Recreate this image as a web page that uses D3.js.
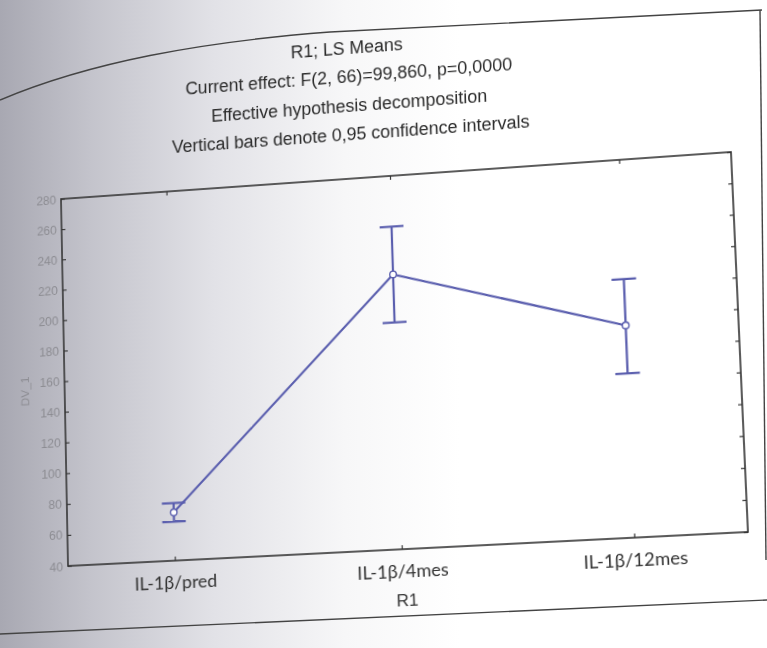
<!DOCTYPE html>
<html>
<head>
<meta charset="utf-8">
<script src="https://cdn.jsdelivr.net/npm/d3@7"></script>
<style>
  html, body { margin: 0; padding: 0; width: 767px; height: 648px; overflow: hidden; }
  body { background: linear-gradient(to right, #a8a8b2 0%, #c4c4cc 12%, #e2e2e7 28%, #f7f7f8 45%, #ffffff 60%); }
  #paper { position: absolute; left: 0; top: 0; }
  #stage { position: absolute; left: 0; top: 0; width: 767px; height: 648px; transform-origin: 0 0; }
</style>
</head>
<body>
<svg id="paper" width="767" height="648"></svg>
<div id="stage"></div>
<script>
// LS means with 0,95 confidence intervals
const categories = ['IL-1β/pred', 'IL-1β/4mes', 'IL-1β/12mes'];
const means      = [71, 216, 174];
const lowerCI    = [65, 185, 143.5];
const upperCI    = [77, 247, 203.5];
const yTicks     = [40, 60, 80, 100, 120, 140, 160, 180, 200, 220, 240, 260, 280];
const titleLines = [
  'R1; LS Means',
  'Current effect: F(2, 66)=99,860, p=0,0000',
  'Effective hypothesis decomposition',
  'Vertical bars denote 0,95 confidence intervals'
];
const xTitle = 'R1';
const yTitle = 'DV_1';

const W = 767, H = 648;
const plot = { left: 64, right: 740, top: 176, bottom: 549 };

// flat chart
const svg = d3.select('#stage').append('svg')
    .attr('width', W)
    .attr('height', H)
    .style('overflow', 'visible');

const x = d3.scalePoint()
    .domain(categories)
    .range([plot.left, plot.right])
    .padding(0.48);

const y = d3.scaleLinear()
    .domain([40, 280])
    .range([plot.bottom, plot.top]);

// titles
svg.append('g')
  .selectAll('text')
  .data(titleLines)
  .join('text')
    .attr('x', 362)
    .attr('y', (d, i) => 49 + i * 29.5)
    .attr('text-anchor', 'middle')
    .attr('font-family', 'Liberation Sans, Arial, sans-serif')
    .attr('font-size', 18)
    .attr('fill', '#2a2a2a')
    .text(d => d);

// axes (ticks inside the frame)
const noDomain = g => g.select('.domain').remove();

const left = svg.append('g')
    .attr('transform', `translate(${plot.left},0)`)
    .call(d3.axisLeft(y).tickValues(yTicks).tickSize(-4).tickPadding(5))
    .call(noDomain);
left.selectAll('line').attr('stroke', '#3a3a3a').attr('stroke-width', 1.2);
left.selectAll('text')
    .attr('font-family', 'Liberation Sans Narrow, Liberation Sans, sans-serif')
    .attr('font-size', 12.5)
    .attr('fill', '#8c8c92');

svg.append('g')
    .attr('transform', `translate(${plot.right},0)`)
    .call(d3.axisRight(y).tickValues(yTicks).tickSize(-4).tickFormat(''))
    .call(noDomain)
    .selectAll('line').attr('stroke', '#3a3a3a').attr('stroke-width', 1.2);

svg.append('g')
    .attr('transform', `translate(0,${plot.top})`)
    .call(d3.axisTop(x).tickSize(-4).tickFormat(''))
    .call(noDomain)
    .selectAll('line').attr('stroke', '#3a3a3a').attr('stroke-width', 1.2);

const bottom = svg.append('g')
    .attr('transform', `translate(0,${plot.bottom})`)
    .call(d3.axisBottom(x).tickSize(-4).tickPadding(15))
    .call(noDomain);
bottom.selectAll('line').attr('stroke', '#3a3a3a').attr('stroke-width', 1.2);
bottom.selectAll('text')
    .attr('font-family', 'Lato, Open Sans, sans-serif')
    .attr('font-size', 18)
    .attr('fill', '#333');

// frame
svg.append('rect')
    .attr('x', plot.left)
    .attr('y', plot.top)
    .attr('width', plot.right - plot.left)
    .attr('height', plot.bottom - plot.top)
    .attr('fill', 'none')
    .attr('stroke', '#333')
    .attr('stroke-width', 1.6);

// axis titles
svg.append('text')
    .attr('x', (plot.left + plot.right) / 2 + 4)
    .attr('y', plot.bottom + 56)
    .attr('text-anchor', 'middle')
    .attr('font-family', 'Liberation Sans, Arial, sans-serif')
    .attr('font-size', 17)
    .attr('fill', '#333')
    .text(xTitle);

svg.append('text')
    .attr('transform', `translate(27,${(plot.top + plot.bottom) / 2 + 8}) rotate(-90)`)
    .attr('text-anchor', 'middle')
    .attr('font-family', 'Liberation Sans, Arial, sans-serif')
    .attr('font-size', 12)
    .attr('fill', '#8c8c92')
    .text(yTitle);

// series
const blue = '#5a5eae';
const rows = categories.map((c, i) => ({ c, m: means[i], lo: lowerCI[i], hi: upperCI[i] }));

svg.append('path')
    .datum(rows)
    .attr('fill', 'none')
    .attr('stroke', blue)
    .attr('stroke-width', 2.2)
    .attr('d', d3.line().x(d => x(d.c)).y(d => y(d.m)));

const bars = svg.append('g')
    .attr('stroke', blue)
    .attr('stroke-width', 2.2)
  .selectAll('g')
  .data(rows)
  .join('g');

bars.append('line')
    .attr('x1', d => x(d.c)).attr('x2', d => x(d.c))
    .attr('y1', d => y(d.lo)).attr('y2', d => y(d.hi));
bars.append('line')
    .attr('x1', d => x(d.c) - 12).attr('x2', d => x(d.c) + 12)
    .attr('y1', d => y(d.hi)).attr('y2', d => y(d.hi));
bars.append('line')
    .attr('x1', d => x(d.c) - 12).attr('x2', d => x(d.c) + 12)
    .attr('y1', d => y(d.lo)).attr('y2', d => y(d.lo));
bars.append('circle')
    .attr('cx', d => x(d.c))
    .attr('cy', d => y(d.m))
    .attr('r', 3.3)
    .attr('fill', '#fff')
    .attr('stroke-width', 1.4);

// photo perspective: map the flat frame corners onto the photographed ones
function homography(src, dst) {
  const A = [], b = [];
  src.forEach(([sx, sy], i) => {
    const [u, v] = dst[i];
    A.push([sx, sy, 1, 0, 0, 0, -sx * u, -sy * u]); b.push(u);
    A.push([0, 0, 0, sx, sy, 1, -sx * v, -sy * v]); b.push(v);
  });
  const n = 8;
  for (let c = 0; c < n; c++) {
    let p = c;
    for (let r = c + 1; r < n; r++) if (Math.abs(A[r][c]) > Math.abs(A[p][c])) p = r;
    [A[c], A[p]] = [A[p], A[c]]; [b[c], b[p]] = [b[p], b[c]];
    for (let r = 0; r < n; r++) {
      if (r === c) continue;
      const f = A[r][c] / A[c][c];
      for (let k = c; k < n; k++) A[r][k] -= f * A[c][k];
      b[r] -= f * b[c];
    }
  }
  return b.map((v, i) => v / A[i][i]);
}

const h = homography(
  [[plot.left, plot.top], [plot.right, plot.top], [plot.right, plot.bottom], [plot.left, plot.bottom]],
  [[61, 199], [731, 152], [748, 532], [68, 566]]
);
d3.select('#stage').style('transform',
  `matrix3d(${h[0]},${h[3]},0,${h[6]},${h[1]},${h[4]},0,${h[7]},0,0,1,0,${h[2]},${h[5]},0,1)`);

// page edges of the printed figure
const paper = d3.select('#paper');
paper.append('path')
    .attr('d', 'M0,100 C90,62 200,42 330,32 L762,10')
    .attr('fill', 'none').attr('stroke', '#444').attr('stroke-width', 1.4);
paper.append('path')
    .attr('d', 'M760,10 L766,560')
    .attr('fill', 'none').attr('stroke', '#444').attr('stroke-width', 1.4);
paper.append('path')
    .attr('d', 'M0,634 L767,600')
    .attr('fill', 'none').attr('stroke', '#444').attr('stroke-width', 1.4);
</script>
</body>
</html>
